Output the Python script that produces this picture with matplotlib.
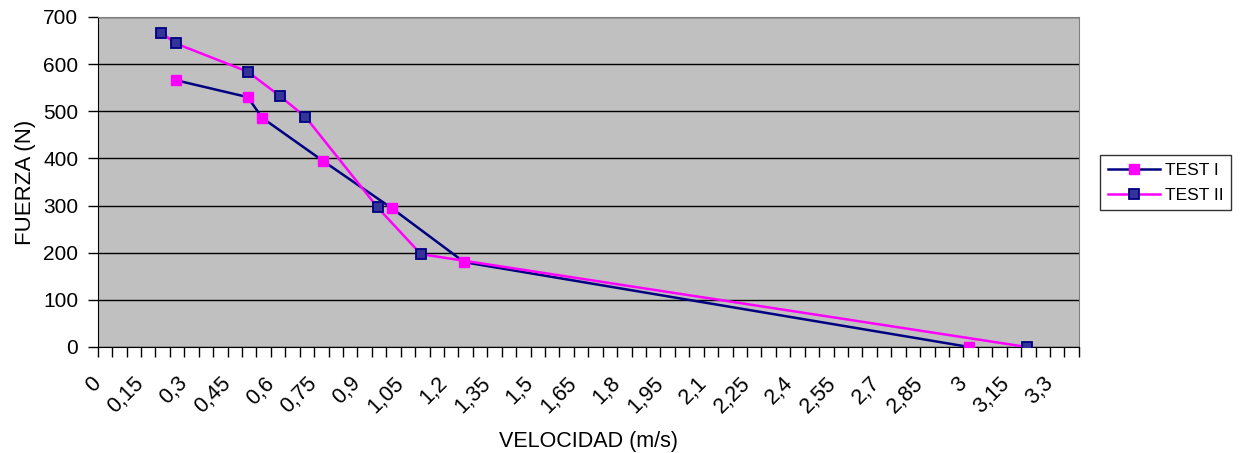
import numpy as np
import matplotlib
matplotlib.use("Agg")
import matplotlib.pyplot as plt
from matplotlib.ticker import MultipleLocator, FuncFormatter

plt.rcParams['font.family'] = ['Liberation Sans', 'DejaVu Sans']

# TEST I: navy line, magenta markers
test1_v = [0.27, 0.52, 0.57, 0.78, 1.02, 1.27, 3.02]
test1_f = [566, 530, 486, 395, 294, 180, 0]

# TEST II: magenta line, navy markers
test2_v = [0.22, 0.27, 0.52, 0.63, 0.72, 0.97, 1.12, 3.22]
test2_f = [667, 644, 584, 533, 488, 296, 197, 0]

series_names = ["TEST I", "TEST II"]

fig = plt.figure(figsize=(12.4, 4.53), dpi=100)
ax = fig.add_axes([0.0788, 0.234, 0.7912, 0.7285])
ax.set_facecolor('#C0C0C0')

ax.plot(test1_v, test1_f, color='#000080', lw=1.8, marker='s', ms=7.5,
        mfc='#FF00FF', mec='#FF00FF', label=series_names[0], zorder=3)
ax.plot(test2_v, test2_f, color='#FF00FF', lw=1.8, marker='s', ms=7.5,
        mfc='#333399', mec='#000080', mew=1.3, label=series_names[1], zorder=3)

ax.set_xlim(0, 3.4)
ax.set_ylim(0, 700)
ax.xaxis.set_major_locator(MultipleLocator(0.15))
ax.xaxis.set_minor_locator(MultipleLocator(0.05))
ax.yaxis.set_major_locator(MultipleLocator(100))
ax.xaxis.set_major_formatter(FuncFormatter(lambda v, p: f"{round(v, 2):g}".replace('.', ',')))

ax.grid(axis='y', color='black', lw=1)
ax.set_axisbelow(True)

ax.tick_params(axis='both', which='both', direction='out', length=7, width=1,
               color='black', labelsize=15)
ax.tick_params(axis='x', which='major', labelsize=15.5, pad=17)
ax.tick_params(axis='y', which='major', pad=7)
for lbl in ax.get_xticklabels():
    lbl.set_rotation(45)
    lbl.set_ha('right')
    lbl.set_va('center')
    lbl.set_rotation_mode('anchor')

for side in ['top', 'right']:
    ax.spines[side].set_color('#808080')
for side in ['left', 'bottom']:
    ax.spines[side].set_color('black')

ax.set_xlabel("VELOCIDAD (m/s)", fontsize=15.5, labelpad=10)
ax.set_ylabel("FUERZA (N)", fontsize=16, labelpad=5)

leg = fig.legend(loc='upper left', bbox_to_anchor=(0.887, 0.658), fontsize=12.5,
                 frameon=True, fancybox=False, edgecolor='black', handlelength=3.0,
                 handletextpad=0.3, borderpad=0.45, borderaxespad=0, labelspacing=0.55)
leg.get_frame().set_linewidth(1)

fig.savefig("out.png", dpi=100)
